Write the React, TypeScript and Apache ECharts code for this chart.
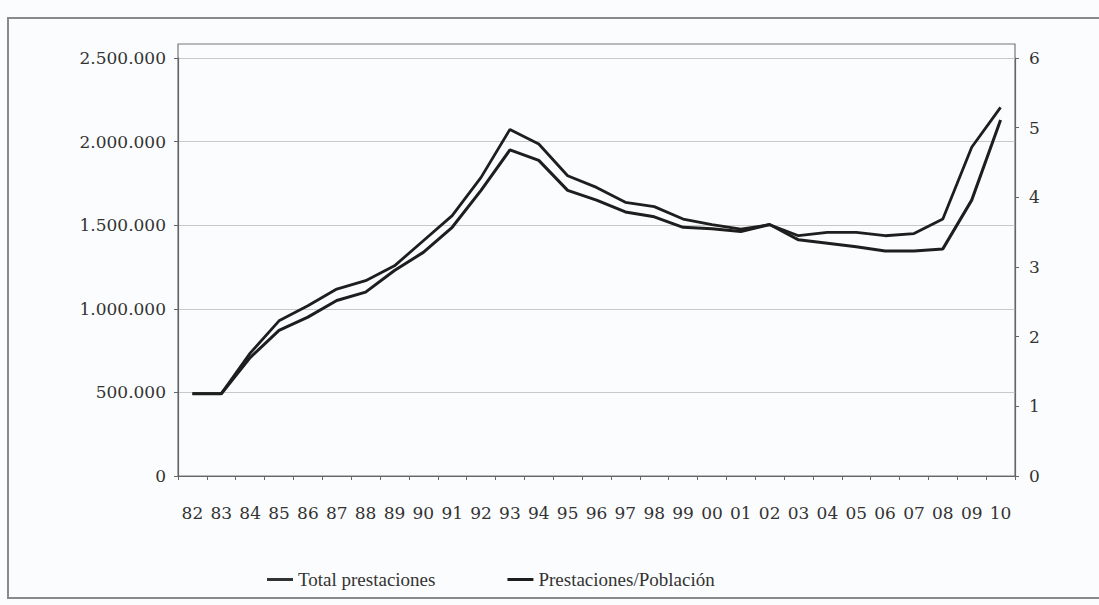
import React, { useEffect, useRef } from "react";
import * as echarts from "echarts";

const years = ["82","83","84","85","86","87","88","89","90","91","92","93","94","95","96","97","98","99","00","01","02","03","04","05","06","07","08","09","10"];
const totalPrestaciones = [493000, 493000, 735000, 928000, 1018000, 1118000, 1168000, 1257000, 1407000, 1557000, 1786000, 2073000, 1986000, 1796000, 1726000, 1637000, 1611000, 1537000, 1503000, 1477000, 1503000, 1437000, 1457000, 1457000, 1437000, 1450000, 1537000, 1966000, 2205000];
const prestacionesPoblacion = [1.18, 1.18, 1.70, 2.09, 2.28, 2.52, 2.64, 2.95, 3.21, 3.57, 4.10, 4.68, 4.53, 4.10, 3.96, 3.79, 3.72, 3.57, 3.55, 3.51, 3.61, 3.39, 3.34, 3.29, 3.23, 3.23, 3.26, 3.96, 5.11];
const leftTicks = [0, 500000, 1000000, 1500000, 2000000, 2500000];
const rightTicks = [0, 1, 2, 3, 4, 5, 6];

const FONT = "Liberation Serif";
const NUMFONT = "DejaVu Serif";
const fmt = (v: number) => String(v).replace(/\B(?=(\d{3})+(?!\d))/g, ".");

export default function App() {
  const ref = useRef<HTMLDivElement>(null);
  useEffect(() => {
    if (!ref.current) return;
    const chart = echarts.init(ref.current, null, { renderer: "svg" });
    chart.setOption({
      animation: false,
      backgroundColor: "#fbfcfd",
      textStyle: { fontFamily: FONT },
      graphic: [
        { type: "rect", shape: { x: 8, y: 18, width: 1110, height: 580 }, style: { fill: "none", stroke: "#8a8a8a", lineWidth: 2 }, silent: true },
        { type: "rect", shape: { x: 178, y: 44, width: 837, height: 432 }, style: { fill: "none", stroke: "#777", lineWidth: 1.2 }, silent: true },
      ],
      legend: {
        top: 565,
        left: 262,
        itemWidth: 26,
        itemHeight: 3,
        itemGap: 72,
        icon: "rect",
        textStyle: { fontFamily: FONT, fontSize: 19, color: "#333" },
        data: ["Total prestaciones", "Prestaciones/Población"],
      },
      grid: { left: 178, right: 84, top: 58, bottom: 129 },
      xAxis: {
        type: "category",
        data: years,
        boundaryGap: true,
        axisLine: { lineStyle: { color: "#666", width: 1.2 } },
        axisTick: { show: true, length: 4, lineStyle: { color: "#666" } },
        axisLabel: { fontFamily: NUMFONT, fontSize: 17, color: "#333", margin: 28, interval: 0 },
      },
      yAxis: [
        {
          type: "value",
          min: leftTicks[0],
          max: leftTicks[leftTicks.length - 1],
          interval: 500000,
          axisLine: { show: true, lineStyle: { color: "#666", width: 1.2 } },
          axisTick: { show: true, length: 4, lineStyle: { color: "#666" } },
          axisLabel: { fontFamily: NUMFONT, fontSize: 17, color: "#333", margin: 12, formatter: (v: number) => fmt(v) },
          splitLine: { show: true, lineStyle: { color: "#c8c8c8", width: 1.2 } },
        },
        {
          type: "value",
          min: rightTicks[0],
          max: rightTicks[rightTicks.length - 1],
          interval: 1,
          position: "right",
          axisLine: { show: true, lineStyle: { color: "#666", width: 1.2 } },
          axisTick: { show: true, length: 4, lineStyle: { color: "#666" } },
          axisLabel: { fontFamily: NUMFONT, fontSize: 17, color: "#333", margin: 14 },
          splitLine: { show: false },
        },
      ],
      series: [
        {
          name: "Total prestaciones",
          type: "line",
          yAxisIndex: 0,
          data: totalPrestaciones,
          symbol: "none",
          lineStyle: { color: "#1e1e1e", width: 2.8 },
          itemStyle: { color: "#333" },
        },
        {
          name: "Prestaciones/Población",
          type: "line",
          yAxisIndex: 1,
          data: prestacionesPoblacion,
          symbol: "none",
          lineStyle: { color: "#1e1e1e", width: 3 },
          itemStyle: { color: "#1e1e1e" },
        },
      ],
    });
    return () => chart.dispose();
  }, []);
  return <div ref={ref} style={{ position: "fixed", left: 0, top: 0, width: 1099, height: 605 }} />;
}
